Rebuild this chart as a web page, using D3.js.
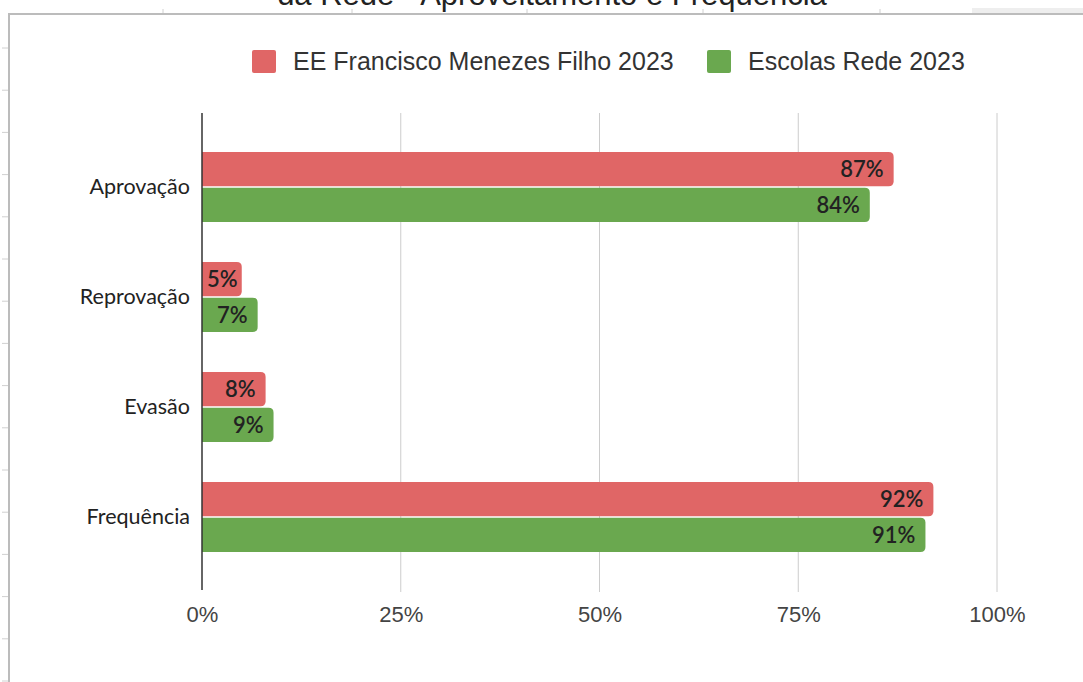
<!DOCTYPE html>
<html>
<head>
<meta charset="utf-8">
<script src="https://cdn.jsdelivr.net/npm/d3@7"></script>
<style>
  body { margin: 0; background: #fff; }
  svg { display: block; }
</style>
</head>
<body>
<div id="chart"></div>
<script>
// chart values
var categories = ["Aprovação", "Reprovação", "Evasão", "Frequência"];
var seriesNames = ["EE Francisco Menezes Filho 2023", "Escolas Rede 2023"];
var schoolValues = [0.87, 0.05, 0.08, 0.92];
var networkValues = [0.84, 0.07, 0.09, 0.91];
var xTicks = [0, 0.25, 0.5, 0.75, 1];
var colors = ["#e06666", "#6aa84f"];

var W = 1083, H = 682;
var svg = d3.select("#chart").append("svg")
  .attr("width", W).attr("height", H);

// sheet-like backdrop: cropped title and frame
svg.append("rect").attr("x", 972).attr("y", 8).attr("width", 111).attr("height", 6).attr("fill", "#eeeeee");
svg.append("text")
  .attr("x", 552).attr("y", 5)
  .attr("text-anchor", "middle")
  .style("font-family", "Liberation Sans, Arial, sans-serif")
  .style("font-size", "31px")
  .style("fill", "#222")
  .text("da Rede - Aproveitamento e Frequência");

[163, 352, 527, 703, 880].forEach(function(x) {
  svg.append("line").attr("x1", x).attr("x2", x).attr("y1", 9).attr("y2", 14)
    .attr("stroke", "#d0d0d0").attr("stroke-width", 1);
});
d3.range(48, 682, 42.2).forEach(function(y) {
  svg.append("line").attr("x1", 2).attr("x2", 9).attr("y1", y).attr("y2", y)
    .attr("stroke", "#d0d0d0").attr("stroke-width", 1);
});
svg.append("path")
  .attr("d", "M9,682 V14 H1083")
  .attr("fill", "none").attr("stroke", "#bcbcbc").attr("stroke-width", 2);

// scales
var x = d3.scaleLinear().domain([0, 1]).range([202, 997]);
var y = d3.scaleBand().domain(categories).range([132, 572])
  .paddingInner(0.364).paddingOuter(0.182);
var ySub = d3.scaleBand().domain(seriesNames).range([0, y.bandwidth()]).paddingInner(0.04);

// gridlines
svg.append("g")
  .selectAll("line")
  .data(xTicks.slice(1))
  .enter().append("line")
  .attr("x1", function(d) { return x(d); })
  .attr("x2", function(d) { return x(d); })
  .attr("y1", 113).attr("y2", 592)
  .attr("stroke", "#cccccc").attr("stroke-width", 1);

// x axis labels
var xAxis = svg.append("g")
  .attr("transform", "translate(0,592)")
  .call(d3.axisBottom(x).tickValues(xTicks).tickFormat(d3.format(".0%")).tickSize(0).tickPadding(14));
xAxis.select(".domain").remove();
xAxis.selectAll("text")
  .style("font-family", "Liberation Sans, Arial, sans-serif")
  .style("font-size", "22px")
  .style("fill", "#444");

// bar with rounded right end
function barPath(x0, y0, w, h, r) {
  r = Math.min(r, w);
  return "M" + x0 + "," + y0 +
    "H" + (x0 + w - r) +
    "Q" + (x0 + w) + "," + y0 + " " + (x0 + w) + "," + (y0 + r) +
    "V" + (y0 + h - r) +
    "Q" + (x0 + w) + "," + (y0 + h) + " " + (x0 + w - r) + "," + (y0 + h) +
    "H" + x0 + "Z";
}

var rows = categories.map(function(c, i) {
  return { cat: c, values: [schoolValues[i], networkValues[i]] };
});

var groups = svg.append("g").selectAll("g")
  .data(rows).enter().append("g")
  .attr("transform", function(d) { return "translate(0," + y(d.cat) + ")"; });

groups.selectAll("path")
  .data(function(d) { return d.values.map(function(v, j) { return { v: v, s: seriesNames[j], j: j }; }); })
  .enter().append("path")
  .attr("d", function(d) { return barPath(x(0), ySub(d.s), x(d.v) - x(0), ySub.bandwidth(), 5); })
  .attr("fill", function(d) { return colors[d.j]; });

groups.selectAll("text.val")
  .data(function(d) { return d.values.map(function(v, j) { return { v: v, s: seriesNames[j] }; }); })
  .enter().append("text")
  .attr("class", "val")
  .attr("x", function(d) { return x(d.v) - 10; })
  .attr("y", function(d) { return ySub(d.s) + ySub.bandwidth() / 2; })
  .attr("dy", "0.35em")
  .attr("text-anchor", "end")
  .style("font-family", "Lato, sans-serif")
  .style("font-size", "22px")
  .style("font-weight", "600")
  .style("fill", "#222")
  .text(function(d) { return d3.format(".0%")(d.v); })
  .each(function(d) {
    // keep short labels inside the bar
    var w = this.getComputedTextLength();
    if (x(d.v) - 10 - w < x(0) + 5) {
      d3.select(this).attr("text-anchor", "start").attr("x", x(0) + 5);
    }
  });

// y axis
var yAxis = svg.append("g")
  .attr("transform", "translate(202,0)")
  .call(d3.axisLeft(y).tickSize(0).tickPadding(12));
yAxis.select(".domain").remove();
yAxis.selectAll("text")
  .style("font-family", "Lato, sans-serif")
  .style("font-size", "21.5px")
  .style("fill", "#222");
svg.append("line")
  .attr("x1", x(0)).attr("x2", x(0)).attr("y1", 113).attr("y2", 590)
  .attr("stroke", "#333").attr("stroke-width", 1.5);

// legend
var legendX = [252, 707];
seriesNames.forEach(function(name, i) {
  svg.append("rect")
    .attr("x", legendX[i]).attr("y", 50)
    .attr("width", 24).attr("height", 23)
    .attr("rx", 2)
    .attr("fill", colors[i]);
  svg.append("text")
    .attr("x", legendX[i] + 41).attr("y", 61)
    .attr("dy", "0.35em")
    .style("font-family", "Liberation Sans, Arial, sans-serif")
    .style("font-size", "25px")
    .style("fill", "#333")
    .text(name);
});
</script>
</body>
</html>
